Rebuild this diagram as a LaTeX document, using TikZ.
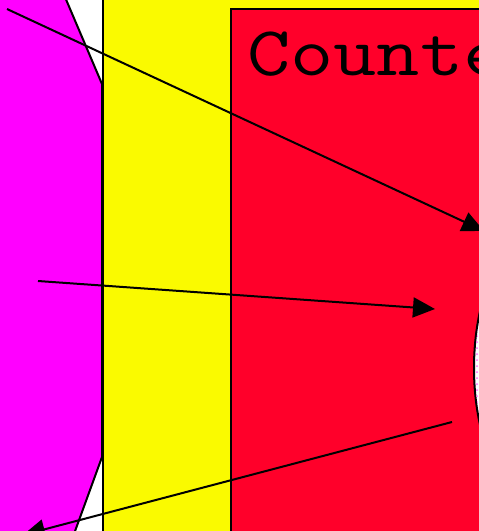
\documentclass[tikz,border=0pt]{standalone}
\usepackage{tikz}
\usetikzlibrary{arrows.meta, positioning}
\definecolor{lanered}{RGB}{255,0,42}
\definecolor{laneyellow}{RGB}{250,250,0}
\definecolor{blobpink}{RGB}{255,0,255}

\begin{document}
\begin{tikzpicture}[x=1pt, y=-1pt, line width=2pt,
  flow/.style={-{Triangle[length=22pt, width=20pt]}, line width=2pt}]
  \useasboundingbox (0,0) rectangle (479,531);
  \clip (0,0) rectangle (479,531);
  % lanes
  \draw[fill=laneyellow] (103,-20) rectangle (700,700);
  \draw[fill=lanered] (231,9) rectangle (700,700);
  % left blob
  \draw[fill=blobpink] (-50,-10) -- (62,-10) -- (102,84) -- (102,457) -- (70,545) -- (-50,545) -- cycle;
  % right blob
  \draw[fill=white] (540,368) ellipse [x radius=66, y radius=136];
  \begin{scope}
    \clip (540,368) ellipse [x radius=65, y radius=135];
    \foreach \y in {300,306,...,430} {
      \fill[blobpink!60] (477,\y) circle (1pt);
      \fill[blobpink!60] (480,\y+3) circle (1pt);
    }
  \end{scope}
  \node[anchor=base west, inner sep=0pt, xscale=1.2,
    font=\ttfamily\fontsize{70}{70}\selectfont] (title) at (246,75) {Counte};
  % connectors
  \coordinate (s1) at (7,9);
  \coordinate (t1) at (484,231);
  \coordinate (s2) at (38,281);
  \coordinate (t2) at (435,309);
  \coordinate (s3) at (452,422);
  \coordinate (t3) at (23,535);
  \draw[flow] (s1) -- (t1);
  \draw[flow] (s2) -- (t2);
  \draw[flow] (s3) -- (t3);
\end{tikzpicture}
\end{document}
